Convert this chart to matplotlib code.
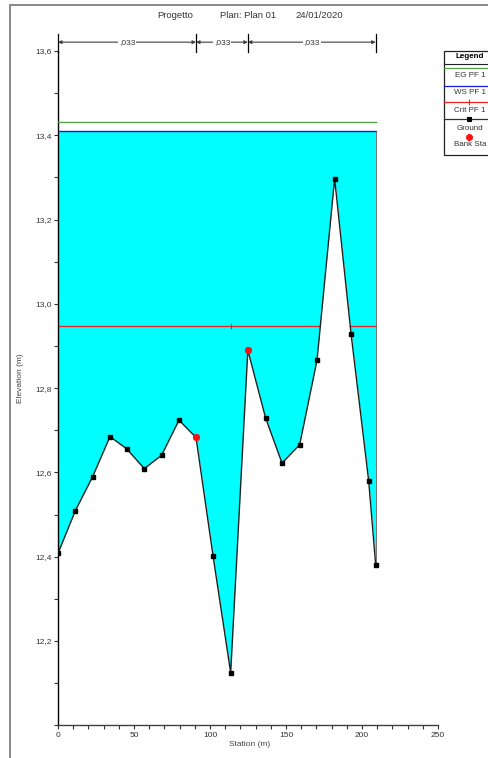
import numpy as np
import matplotlib
matplotlib.use('Agg')
import matplotlib.pyplot as plt
from matplotlib.lines import Line2D
from matplotlib.patches import Rectangle
from matplotlib.ticker import MultipleLocator, FuncFormatter

plt.rcParams['font.family'] = ['Liberation Sans', 'DejaVu Sans']

# cross-section data
station = [0.0, 11.4, 22.8, 34.2, 45.2, 56.8, 68.2, 79.6, 90.8, 102.0, 113.6,
           124.9, 136.6, 147.4, 159.0, 170.4, 182.0, 192.8, 204.4, 209.0]
ground = [12.408, 12.509, 12.590, 12.685, 12.656, 12.609, 12.641, 12.724, 12.683,
          12.402, 12.125, 12.890, 12.729, 12.622, 12.666, 12.866, 13.297, 12.929,
          12.580, 12.381]
bank_sta = [90.8, 124.9]
bank_elev = [12.683, 12.890]
eg_pf1 = 13.432
ws_pf1 = 13.410
crit_pf1 = 12.947
n_values = [',033', ',033', ',033']

W, H = 488, 758
fig = plt.figure(figsize=(W / 100, H / 100), dpi=100)


def fx(px):
    return px / W


def fy(py):
    return 1 - py / H


ax = fig.add_axes([fx(58), fy(725.3), fx(438) - fx(58), fy(51) - fy(725.3)])
ax.set_xlim(0, 250)
ax.set_ylim(12.0, 13.6)

sta = np.array(station)
gr = np.array(ground)
x0, x1 = sta[0], sta[-1]

# water fill, white below ground hides crit line where ground is above it
ax.fill_between(sta, gr, ws_pf1, color='#00ffff', lw=0, zorder=1)
ax.plot([x0, x1], [crit_pf1, crit_pf1], color='#e82020', lw=0.9, zorder=1.5)
ax.plot([x0, sta[np.argmin(gr)]], [crit_pf1, crit_pf1], ls='none', marker='|',
        ms=4, mew=0.8, color='#e82020', zorder=1.6)
ax.fill_between(sta, 12.0, gr, color='white', lw=0, zorder=2)
ax.plot([x0, x1], [eg_pf1, eg_pf1], color='#5aa04a', lw=1.0, zorder=3)
ax.plot([x0, x1], [ws_pf1, ws_pf1], color='#1a1ad8', lw=1.0, zorder=3)
ax.plot([x1, x1], [ws_pf1, gr[-1]], color='#606060', lw=0.6, zorder=3)
ax.plot(sta, gr, color='#202020', lw=1.0, marker='s', ms=2.5,
        mfc='black', mec='black', zorder=4)
ax.plot(bank_sta, bank_elev, ls='none', marker='o', ms=4.2,
        color='#ff1010', zorder=5)

# spines / ticks
for s in ['top', 'right']:
    ax.spines[s].set_visible(False)
ax.spines['left'].set_color('black')
ax.spines['left'].set_linewidth(1.0)
ax.spines['bottom'].set_color('#404040')
ax.spines['bottom'].set_linewidth(1.0)
ax.xaxis.set_major_locator(MultipleLocator(50))
ax.xaxis.set_minor_locator(MultipleLocator(10))
ax.yaxis.set_major_locator(MultipleLocator(0.2))
ax.yaxis.set_minor_locator(MultipleLocator(0.1))
ax.yaxis.set_major_formatter(
    FuncFormatter(lambda v, p: '' if v < 12.05 else f'{v:.1f}'.replace('.', ',')))
ax.xaxis.set_major_formatter(FuncFormatter(lambda v, p: f'{v:.0f}'))
ax.tick_params(which='both', length=3, width=0.8, color='#303030',
               labelsize=6, labelcolor='#333333', pad=1.5)
fig.text(fx(20), fy(378), 'Elevation (m)', rotation=90, fontsize=6,
         color='#444444', ha='center', va='center')
fig.text(fx(250), fy(744), 'Station (m)', fontsize=6, color='#444444',
         ha='center', va='center')

# n-value dimension bars above the section
bounds = [x0, bank_sta[0], bank_sta[1], x1]
ydim = 13.621
for b in bounds:
    ax.plot([b, b], [13.598, 13.640], color='black', lw=0.9, clip_on=False, zorder=6)
for a, b, lab in zip(bounds[:-1], bounds[1:], n_values):
    ax.annotate('', xy=(a, ydim), xytext=(b, ydim),
                arrowprops=dict(arrowstyle='<|-|>', color='#404040', lw=0.8,
                                mutation_scale=5, shrinkA=0, shrinkB=0),
                annotation_clip=False, zorder=6)
    ax.text((a + b) / 2, ydim, lab, fontsize=6, color='#333333', ha='center',
            va='center', clip_on=False, zorder=7,
            bbox=dict(fc='white', ec='none', pad=0.6))

# title
fig.text(fx(157), fy(15), 'Progetto', fontsize=6.8, color='#333333', va='center')
fig.text(fx(220), fy(15), 'Plan: Plan 01', fontsize=6.8, color='#333333', va='center')
fig.text(fx(295), fy(15), '24/01/2020', fontsize=6.8, color='#333333', va='center')

# outer frame
fig.add_artist(Rectangle((fx(10), fy(800)), fx(600), fy(5) - fy(800),
                         transform=fig.transFigure, fill=False,
                         ec='#808080', lw=1.3))

# legend drawn by hand (it is cut by the image edge)
lx, rx = 444, 520
fig.add_artist(Rectangle((fx(lx), fy(155)), fx(rx - lx), fy(51) - fy(155),
                         transform=fig.transFigure, fc='white', ec='#202020', lw=0.9))
fig.add_artist(Line2D([fx(lx), fx(rx)], [fy(64), fy(64)], color='#202020', lw=0.8))
fig.text(fx(470), fy(57), 'Legend', fontsize=5.8, weight='bold', ha='center', va='center')
rows = [('EG PF 1', '#5aa04a', None), ('WS PF 1', '#1a1ad8', None),
        ('Crit PF 1', '#e82020', '|'), ('Ground', '#303030', 's')]
ly = [68.3, 85.5, 101.7, 119.3]
ty = [75.7, 92.7, 110.3, 128.3]
for (lab, col, mk), yl, yt in zip(rows, ly, ty):
    fig.add_artist(Line2D([fx(lx), fx(rx)], [fy(yl), fy(yl)], color=col, lw=0.9))
    if mk:
        fig.add_artist(Line2D([fx(469)], [fy(yl)], ls='none', marker=mk,
                              ms=3 if mk == 's' else 4, color=col if mk == '|' else 'black',
                              mew=0.8))
    fig.text(fx(470), fy(yt), lab, fontsize=5.8, ha='center', va='center', color='#333333')
fig.add_artist(Line2D([fx(469)], [fy(136.7)], ls='none', marker='o', ms=4,
                      color='#ff1010'))
fig.text(fx(470), fy(145), 'Bank Sta', fontsize=5.8, ha='center', va='center',
         color='#333333')

fig.savefig('out.png', dpi=100)
